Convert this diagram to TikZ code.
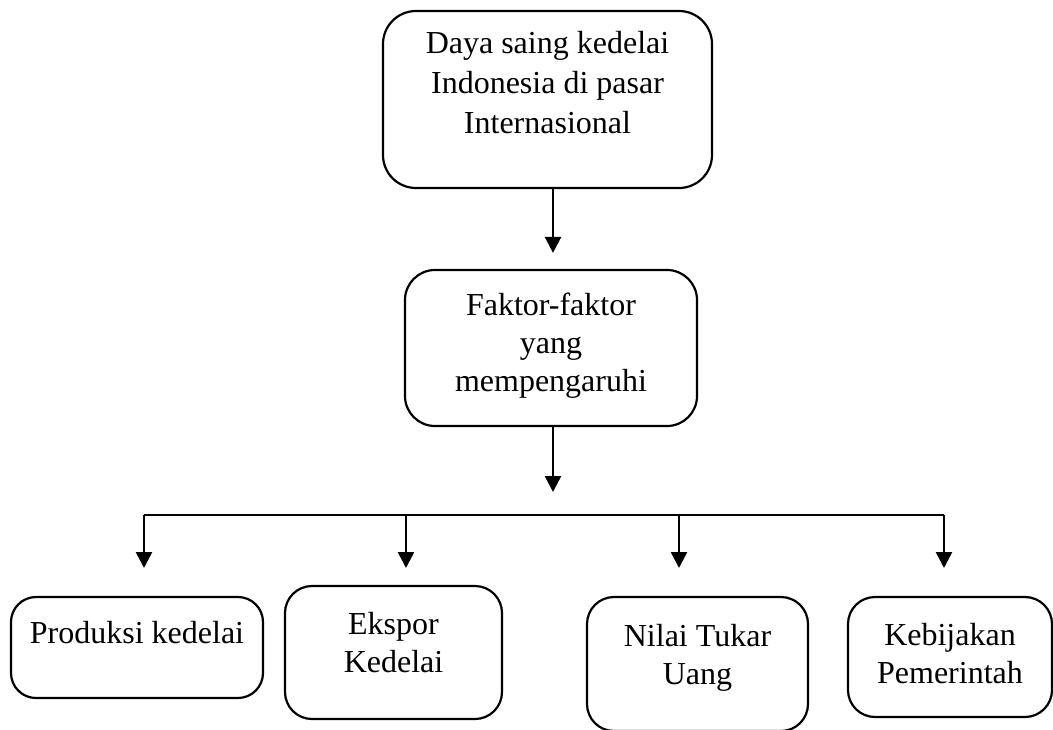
\documentclass[tikz,border=0pt]{standalone}
\usepackage{fontspec}
\setmainfont{Liberation Serif}
\usetikzlibrary{arrows.meta}
\begin{document}
\begin{tikzpicture}[x=1pt,y=-1pt,
  box/.style={draw=black,line width=2.2pt,rounded corners=#1,inner sep=0pt},
  box/.default=25pt,
  txt/.style={inner sep=0pt,align=center,anchor=base,font=\fontsize{32}{38}\selectfont},
  arr/.style={line width=2.5pt,-{Triangle[width=16pt,length=16pt]}},
  ln/.style={line width=2.5pt}]
\useasboundingbox (0,0) rectangle (1053,729);
% boxes
\node[box=33pt,minimum width=329pt,minimum height=177pt] (top) at (547.5,99.5) {};
\node[box=30pt,minimum width=292pt,minimum height=156pt] (mid) at (551,348) {};
\node[box=25pt,minimum width=252pt,minimum height=101pt] (b1) at (137,647.5) {};
\node[box=27pt,minimum width=217pt,minimum height=133pt] (b2) at (393.5,652.5) {};
\node[box=27pt,minimum width=221pt,minimum height=134pt] (b3) at (697.5,664) {};
\node[box=27pt,minimum width=204pt,minimum height=120pt] (b4) at (950,657) {};
% texts (anchor = baseline of the last line)
\node[txt,font=\fontsize{32}{40}\selectfont] (topt) at (547.5,133) {Daya saing kedelai\\Indonesia di pasar\\Internasional};
\node[txt] (midt) at (551,391) {Faktor-faktor\\yang\\mempengaruhi};
\node[txt] (b1t) at (137,643) {Produksi kedelai};
\node[txt] (b2t) at (393.5,672) {Ekspor\\Kedelai};
\node[txt] (b3t) at (697.5,684) {Nilai Tukar\\Uang};
\node[txt] (b4t) at (950,683) {Kebijakan\\Pemerintah};
% connectors
\coordinate (ax) at (553,0);
\coordinate (j) at (553,492);
\coordinate (tip) at (0,568);
\coordinate (c1) at (144,515);
\coordinate (c2) at (406,515);
\coordinate (c3) at (679,515);
\coordinate (c4) at (944,515);
\draw[arr] (top.south -| ax) -- (mid.north -| ax) [shorten >=16pt];
\draw[arr] (mid.south -| ax) -- (j);
\draw[ln] (c1) -- (c4);
\draw[arr] (c1) -- (c1 |- tip);
\draw[arr] (c2) -- (c2 |- tip);
\draw[arr] (c3) -- (c3 |- tip);
\draw[arr] (c4) -- (c4 |- tip);
\end{tikzpicture}
\end{document}
